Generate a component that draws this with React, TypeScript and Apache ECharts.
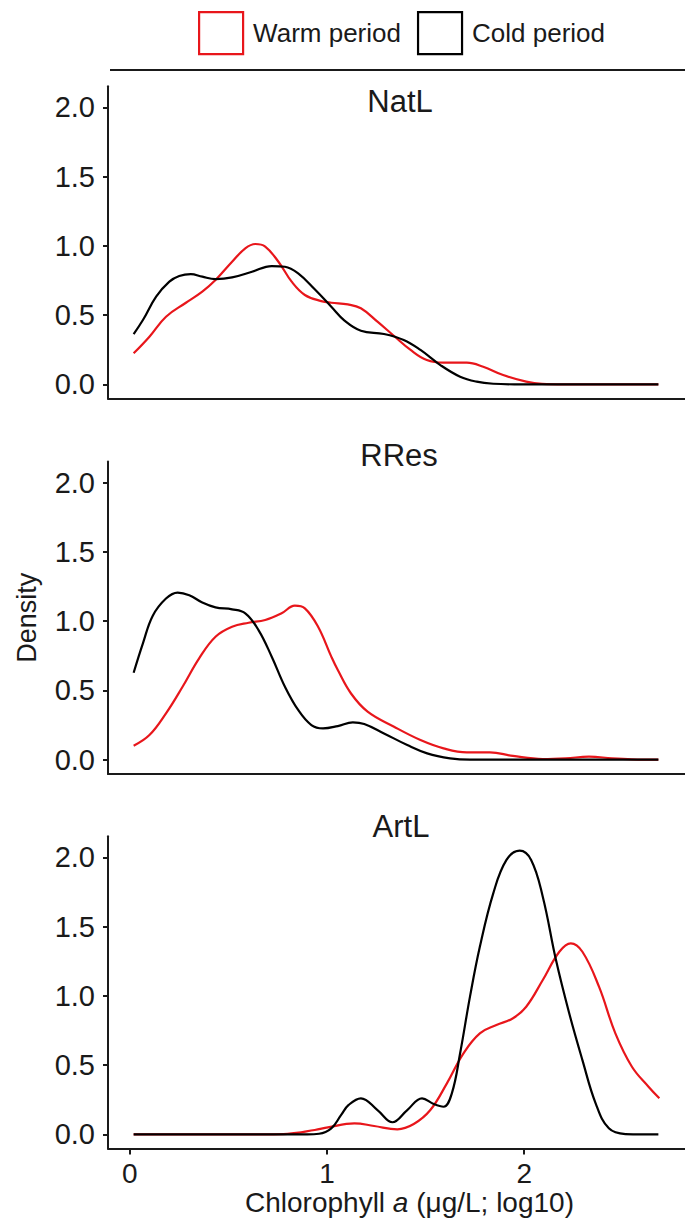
import React, { useEffect, useRef } from "react";
import * as echarts from "echarts";

// Kernel density curves of chlorophyll a (log10 µg/L), one panel per lake type
const panelNames = ["NatL", "RRes", "ArtL"];
const seriesNames = ["Warm period", "Cold period"];
const xTicks = [0, 1, 2];
const yTicks = [0, 0.5, 1, 1.5, 2];

const natlWarm = [
  [0.02, 0.224], [0.1, 0.344], [0.184, 0.488], [0.285, 0.589], [0.368, 0.669],
  [0.435, 0.753], [0.519, 0.885], [0.586, 0.982], [0.637, 1.013], [0.687, 0.994],
  [0.754, 0.885], [0.821, 0.741], [0.888, 0.645], [0.971, 0.601], [1.022, 0.589],
  [1.106, 0.577], [1.172, 0.549], [1.256, 0.452], [1.34, 0.349], [1.424, 0.248],
  [1.506, 0.175], [1.591, 0.156], [1.709, 0.156], [1.792, 0.127], [1.893, 0.067],
  [2.01, 0.019], [2.09, 0.003], [2.2, 0], [2.4, 0], [2.68, 0],
];
const natlCold = [
  [0.02, 0.363], [0.067, 0.464], [0.134, 0.633], [0.201, 0.741], [0.251, 0.782],
  [0.31, 0.796], [0.368, 0.777], [0.435, 0.76], [0.519, 0.772], [0.62, 0.813],
  [0.72, 0.854], [0.787, 0.849], [0.854, 0.801], [0.938, 0.686], [1.022, 0.56],
  [1.089, 0.46], [1.172, 0.387], [1.289, 0.363], [1.389, 0.32], [1.474, 0.248],
  [1.575, 0.139], [1.675, 0.055], [1.759, 0.019], [1.843, 0.004], [1.95, 0],
  [2.3, 0], [2.68, 0],
];
const rresWarm = [
  [0.02, 0.101], [0.1, 0.178], [0.184, 0.335], [0.268, 0.527], [0.352, 0.732],
  [0.435, 0.888], [0.519, 0.96], [0.603, 0.989], [0.687, 1.009], [0.77, 1.057],
  [0.837, 1.112], [0.888, 1.093], [0.955, 0.96], [1.022, 0.744], [1.055, 0.647],
  [1.122, 0.478], [1.206, 0.347], [1.34, 0.238], [1.474, 0.142], [1.591, 0.082],
  [1.709, 0.053], [1.826, 0.053], [1.943, 0.027], [2.094, 0.005], [2.211, 0.01],
  [2.328, 0.022], [2.445, 0.01], [2.546, 0.003], [2.68, 0],
];
const rresCold = [
  [0.02, 0.628], [0.067, 0.84], [0.117, 1.04], [0.184, 1.164], [0.243, 1.207],
  [0.302, 1.188], [0.368, 1.135], [0.435, 1.1], [0.519, 1.086], [0.586, 1.057],
  [0.653, 0.936], [0.72, 0.744], [0.787, 0.527], [0.854, 0.359], [0.921, 0.25],
  [0.98, 0.226], [1.055, 0.243], [1.131, 0.27], [1.189, 0.258], [1.289, 0.19],
  [1.407, 0.106], [1.508, 0.046], [1.624, 0.01], [1.725, 0], [2.2, 0], [2.68, 0],
];
const artlWarm = [
  [0.02, 0], [0.4, 0], [0.7, 0], [0.8, 0.003], [0.938, 0.031], [1.005, 0.05],
  [1.139, 0.079], [1.239, 0.06], [1.357, 0.036], [1.44, 0.074], [1.524, 0.175],
  [1.608, 0.368], [1.692, 0.585], [1.775, 0.729], [1.859, 0.789], [1.943, 0.838],
  [2.01, 0.921], [2.094, 1.114], [2.178, 1.318], [2.236, 1.379], [2.295, 1.318],
  [2.379, 1.066], [2.462, 0.729], [2.546, 0.488], [2.63, 0.344], [2.685, 0.26],
];
const artlCold = [
  [0.02, 0], [0.5, 0], [0.9, 0], [0.96, 0.004], [1.022, 0.043], [1.072, 0.14],
  [1.11, 0.212], [1.172, 0.26], [1.256, 0.175], [1.332, 0.087], [1.407, 0.175],
  [1.482, 0.26], [1.541, 0.219], [1.591, 0.199], [1.633, 0.296], [1.675, 0.585],
  [1.725, 0.994], [1.775, 1.354], [1.843, 1.74], [1.91, 1.981], [1.977, 2.048],
  [2.035, 1.981], [2.094, 1.716], [2.161, 1.258], [2.228, 0.874], [2.295, 0.536],
  [2.362, 0.224], [2.429, 0.043], [2.513, 0.002], [2.6, 0], [2.68, 0],
];

const warmCurves = [natlWarm, rresWarm, artlWarm];
const coldCurves = [natlCold, rresCold, artlCold];

const RED = "#e8161b";
const INK = "#1a1a1a";
const FONT = "'Liberation Sans', Arial, Helvetica, sans-serif";

const X_MIN = -0.11;
const X_MAX = 2.815;
const Y_MIN = -0.1025;
const Y_MAX = 2.1525;

const PANEL_LEFT = 108;
const PANEL_WIDTH = 582;
const PANEL_HEIGHT = 312.3;
const panelTops = [86.2, 461.6, 836.2];
const stripCentres = [
  [400, 101],
  [399, 455],
  [401, 826],
];

function buildOption() {
  const grid = panelTops.map((top) => ({
    left: PANEL_LEFT,
    top,
    width: PANEL_WIDTH,
    height: PANEL_HEIGHT,
  }));

  const xAxis = panelTops.map((_, i) => {
    const last = i === panelTops.length - 1;
    return {
      type: "value",
      gridIndex: i,
      min: X_MIN,
      max: X_MAX,
      axisLine: { show: true, onZero: false, lineStyle: { color: INK, width: 2 } },
      axisTick: {
        show: last,
        length: 6,
        lineStyle: { color: INK, width: 2 },
        customValues: xTicks,
      },
      axisLabel: {
        show: last,
        customValues: xTicks,
        margin: 11,
        fontSize: 28,
        color: INK,
        fontFamily: FONT,
      },
      splitLine: { show: false },
      ...(last
        ? {
            name: "Chlorophyll {i|a} (μg/L; log10)",
            nameLocation: "middle",
            nameGap: 40,
            nameTextStyle: {
              fontSize: 28,
              color: INK,
              fontFamily: FONT,
              padding: [0, 0, 0, 26],
              rich: {
                i: { fontSize: 28, color: INK, fontFamily: FONT, fontStyle: "italic" },
              },
            },
          }
        : {}),
    };
  });

  const yAxis = panelTops.map((_, i) => ({
    type: "value",
    gridIndex: i,
    min: Y_MIN,
    max: Y_MAX,
    axisLine: { show: true, onZero: false, lineStyle: { color: INK, width: 2 } },
    axisTick: {
      show: true,
      length: 5,
      lineStyle: { color: INK, width: 2 },
      customValues: yTicks,
    },
    axisLabel: {
      customValues: yTicks,
      formatter: (v: number) => v.toFixed(1),
      margin: 13,
      fontSize: 29,
      color: INK,
      fontFamily: FONT,
    },
    splitLine: { show: false },
    ...(i === 1
      ? {
          name: "Density",
          nameLocation: "middle",
          nameRotate: 90,
          nameGap: 68,
          nameTextStyle: { fontSize: 27, color: INK, fontFamily: FONT },
        }
      : {}),
  }));

  const series: any[] = [];
  panelNames.forEach((_, i) => {
    series.push({
      name: seriesNames[0],
      type: "line",
      xAxisIndex: i,
      yAxisIndex: i,
      data: warmCurves[i],
      smooth: 0.4,
      showSymbol: false,
      symbol: "none",
      color: RED,
      lineStyle: { color: RED, width: 2.2 },
    });
    series.push({
      name: seriesNames[1],
      type: "line",
      xAxisIndex: i,
      yAxisIndex: i,
      data: coldCurves[i],
      smooth: 0.4,
      showSymbol: false,
      symbol: "none",
      color: "#000",
      lineStyle: { color: "#000", width: 2.2 },
    });
  });

  const graphic: any[] = [
    {
      type: "line",
      shape: { x1: 110, y1: 70, x2: 690, y2: 70 },
      style: { stroke: INK, lineWidth: 2 },
    },
    ...panelNames.map((name, i) => ({
      type: "text",
      x: stripCentres[i][0],
      y: stripCentres[i][1],
      style: {
        text: name,
        fill: INK,
        font: `31px ${FONT}`,
        align: "center",
        verticalAlign: "middle",
      },
    })),
  ];

  return {
    animation: false,
    backgroundColor: "#ffffff",
    legend: {
      data: [
        { name: seriesNames[0], itemStyle: { color: "#ffffff", borderColor: RED, borderWidth: 2.2 } },
        { name: seriesNames[1], itemStyle: { color: "#ffffff", borderColor: "#000", borderWidth: 2.2 } },
      ],
      icon: "rect",
      left: 198,
      top: 11,
      padding: 0,
      itemWidth: 44,
      itemHeight: 42,
      itemGap: 16,
      selectedMode: false,
      textStyle: { fontSize: 26, color: INK, fontFamily: FONT, padding: [0, 0, 0, 5] },
    },
    grid,
    xAxis,
    yAxis,
    series,
    graphic,
  };
}

export default function App() {
  const ref = useRef<HTMLDivElement>(null);

  useEffect(() => {
    if (!ref.current) return;
    const chart = echarts.init(ref.current, null, { renderer: "svg" });
    chart.setOption(buildOption() as any);
    return () => chart.dispose();
  }, []);

  return (
    <div
      ref={ref}
      style={{
        position: "absolute",
        left: 0,
        top: 0,
        width: 685,
        height: 1226,
        background: "#ffffff",
        overflow: "hidden",
      }}
    />
  );
}
